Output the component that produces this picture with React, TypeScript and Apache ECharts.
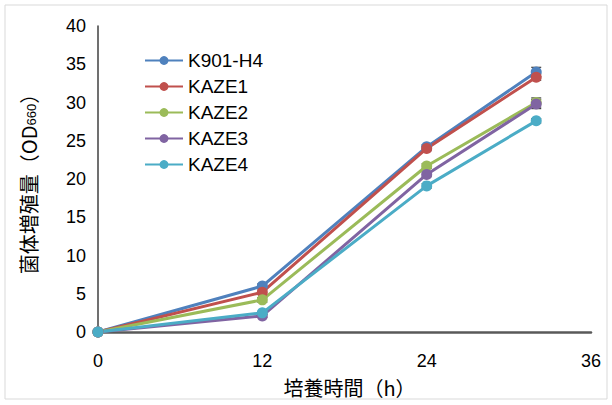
import React, { useEffect, useRef } from "react";
import * as echarts from "echarts";

const hours = [0, 12, 24, 32];
const seriesNames = ["K901-H4", "KAZE1", "KAZE2", "KAZE3", "KAZE4"];
const k901 = [0, 6.0, 24.2, 34.0];
const kaze1 = [0, 5.2, 24.0, 33.3];
const kaze2 = [0, 4.2, 21.7, 30.0];
const kaze3 = [0, 2.1, 20.6, 29.8];
const kaze4 = [0, 2.5, 19.1, 27.6];
const errors = [
  [0, 0.3, 0.3, 0.6],
  [0, 0.3, 0.3, 0.4],
  [0, 0.3, 0.3, 0.6],
  [0, 0.2, 0.3, 0.6],
  [0, 0.2, 0.3, 0.3],
];
const colors = ["#4F81BD", "#C0504D", "#9BBB59", "#8064A2", "#4BACC6"];
const yTicks = { min: 0, max: 40, interval: 5 };
const xTicks = { min: 0, max: 36, interval: 12 };

const allValues = [k901, kaze1, kaze2, kaze3, kaze4];

export default function App() {
  const ref = useRef<HTMLDivElement>(null);
  useEffect(() => {
    if (!ref.current) return;
    const chart = echarts.init(ref.current, null, { renderer: "svg" });
    const font = "'Liberation Sans', 'Noto Sans CJK JP', sans-serif";
    const cjk = "'Noto Sans CJK JP', sans-serif";
    const lineSeries = seriesNames.map((name, i) => ({
      name,
      type: "line",
      data: hours.map((h, j) => [h, allValues[i][j]]),
      symbol: "circle",
      symbolSize: 11,
      lineStyle: { width: 3, color: colors[i] },
      itemStyle: { color: colors[i] },
      color: colors[i],
      z: 3,
    }));
    const errData: number[][] = [];
    seriesNames.forEach((_, i) => {
      hours.forEach((h, j) => {
        if (errors[i][j] > 0) errData.push([h, allValues[i][j] - errors[i][j], allValues[i][j] + errors[i][j]]);
      });
    });
    const errSeries = {
      type: "custom",
      name: "err",
      z: 2,
      data: errData,
      renderItem: (params: any, api: any) => {
        const x = api.value(0);
        const lo = api.coord([x, api.value(1)]);
        const hi = api.coord([x, api.value(2)]);
        const w = 5;
        const st = { stroke: "#404040", lineWidth: 1.2 };
        return {
          type: "group",
          children: [
            { type: "line", shape: { x1: lo[0], y1: lo[1], x2: hi[0], y2: hi[1] }, style: st },
            { type: "line", shape: { x1: lo[0] - w, y1: lo[1], x2: lo[0] + w, y2: lo[1] }, style: st },
            { type: "line", shape: { x1: hi[0] - w, y1: hi[1], x2: hi[0] + w, y2: hi[1] }, style: st },
          ],
        };
      },
      silent: true,
    };
    chart.setOption({
      animation: false,
      backgroundColor: "#ffffff",
      graphic: [
        {
          type: "rect",
          shape: { x: 5, y: 5, width: 602, height: 394 },
          style: { fill: "none", stroke: "#D9D9D9", lineWidth: 1 },
          silent: true,
        },
      ],
      legend: {
        data: seriesNames,
        orient: "vertical",
        left: 139,
        top: 46,
        itemWidth: 38,
        itemHeight: 11,
        itemGap: 7,
        textStyle: { fontFamily: font, fontSize: 19, color: "#000", lineHeight: 17 },
      },
      grid: { left: 98, top: 26, right: 21, bottom: 73 },
      xAxis: {
        type: "value",
        ...xTicks,
        name: "培養時間（h）",
        nameLocation: "middle",
        nameGap: 45,
        nameTextStyle: { fontFamily: cjk, fontSize: 20, color: "#000", padding: [0, 0, 0, 10] },
        axisLine: { show: true, lineStyle: { color: "#595959", width: 2.5 } },
        axisTick: { show: false },
        splitLine: { show: false },
        axisLabel: { fontFamily: font, fontSize: 18, color: "#000", margin: 20 },
      },
      yAxis: {
        type: "value",
        ...yTicks,
        name: "{a|菌体増殖量（OD}{s|660}{a|）}",
        nameLocation: "middle",
        nameRotate: 90,
        nameGap: 60,
        nameTextStyle: {
          color: "#000",
          rich: {
            a: { fontFamily: cjk, fontSize: 20, color: "#000", verticalAlign: "bottom", lineHeight: 26 },
            s: { fontFamily: font, fontSize: 13, color: "#000", verticalAlign: "bottom", lineHeight: 20 },
          },
        },
        axisLine: { show: true, lineStyle: { color: "#404040", width: 1.5 } },
        axisTick: { show: false },
        splitLine: { show: false },
        axisLabel: { fontFamily: font, fontSize: 18, color: "#000", margin: 12 },
      },
      series: [...lineSeries, errSeries],
    });
    return () => chart.dispose();
  }, []);
  return <div ref={ref} style={{ width: 612, height: 405, position: "absolute", left: 0, top: 0 }} />;
}
